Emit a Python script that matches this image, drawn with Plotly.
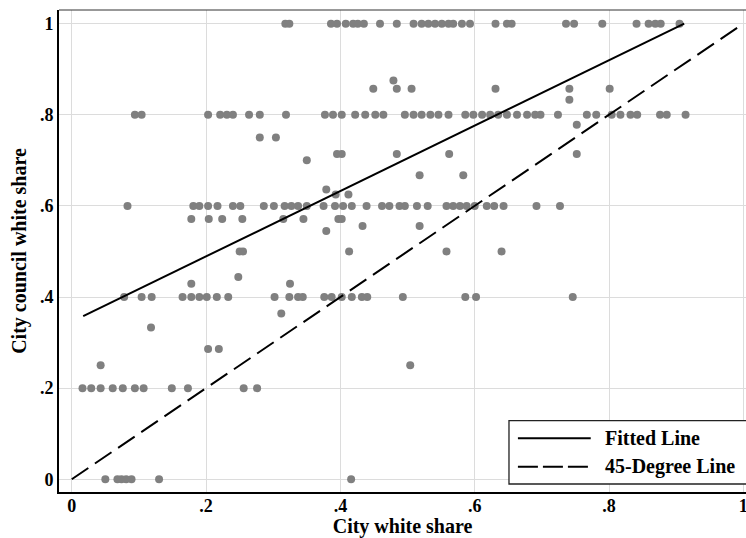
import plotly.graph_objects as go

# ---- data (city white share per council-share level) ----
row_1000 = [0.318, 0.324, 0.386, 0.395, 0.408, 0.419, 0.426, 0.435, 0.459, 0.484, 0.509, 0.521,
            0.531, 0.541, 0.551, 0.561, 0.568, 0.581, 0.593, 0.631, 0.648, 0.655, 0.736, 0.748,
            0.790, 0.841, 0.859, 0.869, 0.877, 0.905]
row_0875 = [0.479]
row_0857 = [0.449, 0.484, 0.506, 0.631, 0.741, 0.801]
row_0833 = [0.741]
row_0800 = [0.094, 0.104, 0.203, 0.221, 0.231, 0.240, 0.264, 0.280, 0.319, 0.377, 0.389, 0.402,
            0.422, 0.437, 0.452, 0.464, 0.496, 0.509, 0.521, 0.534, 0.546, 0.561, 0.586, 0.598,
            0.611, 0.623, 0.635, 0.648, 0.663, 0.678, 0.690, 0.698, 0.724, 0.767, 0.781, 0.804,
            0.817, 0.832, 0.842, 0.876, 0.886, 0.914]
row_0778 = [0.752]
row_0750 = [0.280, 0.304]
row_0714 = [0.395, 0.402, 0.484, 0.562, 0.752]
row_0700 = [0.350]
row_0667 = [0.518, 0.583]
row_0636 = [0.379]
row_0625 = [0.393, 0.412]
row_0600 = [0.083, 0.181, 0.190, 0.203, 0.217, 0.240, 0.251, 0.286, 0.301, 0.317, 0.327, 0.337,
            0.350, 0.375, 0.392, 0.404, 0.417, 0.439, 0.462, 0.473, 0.488, 0.496, 0.514, 0.530,
            0.558, 0.568, 0.578, 0.588, 0.600, 0.618, 0.629, 0.643, 0.692, 0.727]
row_0571 = [0.178, 0.204, 0.224, 0.254, 0.315, 0.345, 0.397, 0.402]
row_0556 = [0.433, 0.518]
row_0545 = [0.379]
row_0500 = [0.250, 0.255, 0.413, 0.558, 0.640]
row_0444 = [0.248]
row_0429 = [0.178, 0.325]
row_0400 = [0.078, 0.104, 0.119, 0.165, 0.178, 0.190, 0.201, 0.216, 0.233, 0.302, 0.324, 0.337,
            0.344, 0.376, 0.387, 0.402, 0.417, 0.432, 0.440, 0.493, 0.586, 0.602, 0.746]
row_0364 = [0.312]
row_0333 = [0.118]
row_0286 = [0.203, 0.219]
row_0250 = [0.043, 0.504]
row_0200 = [0.016, 0.029, 0.043, 0.061, 0.076, 0.094, 0.107, 0.149, 0.173, 0.256, 0.276]
row_0000 = [0.050, 0.068, 0.074, 0.081, 0.089, 0.130, 0.416]

council_levels = [1.0, 0.875, 0.857, 0.833, 0.8, 0.778, 0.75, 0.714, 0.7, 0.667, 0.636, 0.625,
                  0.6, 0.571, 0.556, 0.545, 0.5, 0.444, 0.429, 0.4, 0.364, 0.333, 0.286, 0.25,
                  0.2, 0.0]
city_rows = [row_1000, row_0875, row_0857, row_0833, row_0800, row_0778, row_0750, row_0714,
             row_0700, row_0667, row_0636, row_0625, row_0600, row_0571, row_0556, row_0545,
             row_0500, row_0444, row_0429, row_0400, row_0364, row_0333, row_0286, row_0250,
             row_0200, row_0000]

fit_x = [0.017, 0.912]
fit_y = [0.358, 1.0]
diag_x = [0.0, 1.0]
diag_y = [0.0, 1.0]

tick_vals = [0, 0.2, 0.4, 0.6, 0.8, 1]
tick_text = ["0", ".2", ".4", ".6", ".8", "1"]

legend_labels = ["Fitted Line", "45-Degree Line"]

# ---- build ----
xs, ys = [], []
for lvl, row in zip(council_levels, city_rows):
    for v in row:
        xs.append(v)
        ys.append(lvl)

FONT = "Liberation Serif"
fig = go.Figure()
fig.add_trace(go.Scatter(x=xs, y=ys, mode="markers",
                         marker=dict(color="#808080", size=8, line=dict(width=0)),
                         showlegend=False, hoverinfo="skip"))
fig.add_trace(go.Scatter(x=fit_x, y=fit_y, mode="lines",
                         line=dict(color="black", width=2), showlegend=False, hoverinfo="skip"))
fig.add_trace(go.Scatter(x=diag_x, y=diag_y, mode="lines",
                         line=dict(color="black", width=2, dash="20px,8px"), showlegend=False,
                         hoverinfo="skip"))

axis_common = dict(
    tickvals=tick_vals, ticktext=tick_text,
    showgrid=True, gridcolor="#dcdcdc", gridwidth=1.3,
    zeroline=False, showline=True, linecolor="black", linewidth=2,
    ticks="", tickfont=dict(family=FONT, size=18, color="black", weight="bold"),
    automargin=False, ticklabeloverflow="allow",
)

fig.update_layout(
    width=746, height=538,
    margin=dict(l=59, r=0, t=10, b=46),
    paper_bgcolor="white", plot_bgcolor="white",
    xaxis=dict(range=[-0.019, 1.004],
               title=dict(text="City white share", standoff=2,
                          font=dict(family=FONT, size=20, color="black", weight="bold")),
               ticklabelstandoff=-4,
               **axis_common),
    yaxis=dict(range=[-0.028, 1.03],
               title=dict(text="City council white share", standoff=8,
                          font=dict(family=FONT, size=20, color="black", weight="bold")),
               **axis_common),
    showlegend=False,
)

# top frame line
fig.add_shape(type="line", xref="paper", yref="paper", x0=0, x1=1, y0=1, y1=1,
              line=dict(color="#333333", width=1))

# manual legend box
fig.add_shape(type="rect", xref="paper", yref="paper", x0=0.655, x1=1.01, y0=0.0166, y1=0.148,
              line=dict(color="#222222", width=1.3), fillcolor="white", layer="above")
leg_y = [0.1114, 0.0525]
leg_dash = ["solid", "20px,5px"]
for lbl, yy, dsh in zip(legend_labels, leg_y, leg_dash):
    fig.add_shape(type="line", xref="paper", yref="paper", x0=0.668, x1=0.774, y0=yy, y1=yy,
                  line=dict(color="black", width=2, dash=dsh), layer="above")
    fig.add_annotation(xref="paper", yref="paper", x=0.792, y=yy, text=lbl, showarrow=False,
                       xanchor="left", yanchor="middle",
                       font=dict(family=FONT, size=20, color="black", weight="bold"))

fig.write_html("out.html", config={"displayModeBar": False})
# remove the default page margin so the figure sits at the window's top-left corner
with open("out.html", "r", encoding="utf-8") as fh:
    html = fh.read()
html = html.replace("<head>", "<head><style>html,body{margin:0;padding:0;overflow:hidden;}</style>", 1)
with open("out.html", "w", encoding="utf-8") as fh:
    fh.write(html)
